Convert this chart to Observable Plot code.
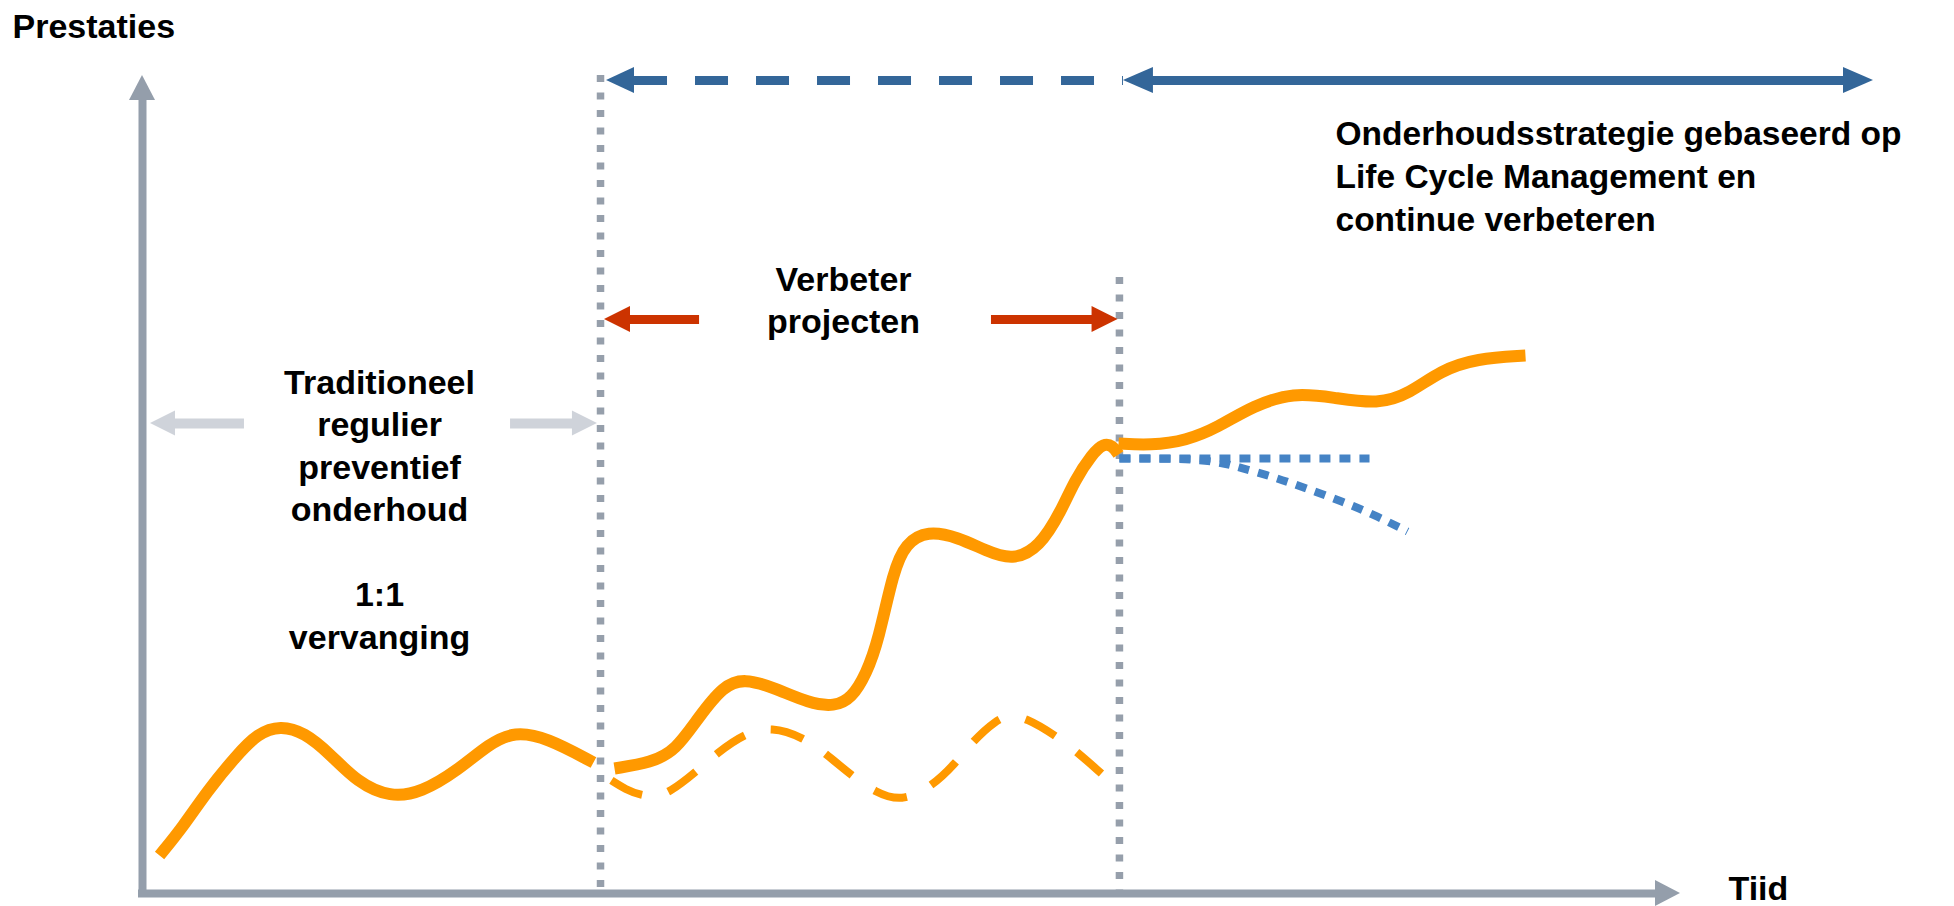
<!DOCTYPE html>
<html>
<head>
<meta charset="utf-8">
<script src="https://cdn.jsdelivr.net/npm/d3@7"></script>
<script src="https://cdn.jsdelivr.net/npm/@observablehq/plot@0.6"></script>
<style>
  html, body { margin: 0; padding: 0; background: #fff; }
  svg { display: block; }
</style>
</head>
<body>
<div id="chart"></div>
<script>
// ---------- DATA (time t, performance p; both in abstract units 0..100) ----------
// Traditional maintenance (solid orange)
const traditional = [
  [1.11,4.66],[2.60,8.09],[4.23,12.62],[6.11,16.91],[7.48,19.61],[8.97,20.59],
  [10.53,19.73],[12.16,17.16],[13.98,13.60],[16.12,11.76],[18.14,12.38],[20.48,15.07],
  [22.56,18.38],[24.19,19.85],[26.27,19.12],[29.32,16.05]
];
// Improvement projects (solid orange)
const improvement = [
  [30.69,15.32],[33.09,16.05],[34.66,17.52],[36.15,21.57],[37.78,25.49],[39.14,26.35],
  [41.03,25.25],[43.37,23.28],[44.99,22.92],[46.10,23.90],[47.07,26.96],[47.85,31.00],
  [48.83,39.58],[49.61,42.89],[51.04,44.49],[53.06,43.63],[54.81,42.03],[56.57,40.81],
  [58.32,42.40],[59.75,46.94],[60.60,50.61],[61.77,53.92],[62.48,55.15],[63.07,54.90],
  [63.46,53.80]
];
// Life Cycle Management and continuous improvement (solid orange)
const lifeCycle = [
  [63.46,55.15],[65.54,54.90],[67.88,55.51],[69.90,57.11],[72.24,59.80],[74.84,61.40],
  [77.44,60.78],[80.36,59.93],[82.38,61.27],[84.40,64.09],[86.74,65.56],[89.92,65.93]
];
// Without improvement projects (dashed orange)
const withoutProjects = [
  [30.49,13.85],[31.40,12.75],[32.44,12.01],[33.36,11.89],[34.27,12.38],[36.02,14.95],
  [37.32,17.16],[39.14,19.61],[40.90,20.47],[42.98,19.12],[44.41,17.16],[46.10,14.46],
  [47.66,12.38],[49.35,11.27],[51.24,12.99],[52.86,15.93],[53.90,18.50],[55.53,21.32],
  [56.37,21.81],[57.41,21.57],[59.36,19.36],[60.66,17.52],[62.35,14.71]
];
// Without LCM (blue dotted): stable and declining
const stable = [[63.52,53.31],[79.78,53.31]];
const declining = [
  [63.52,53.31],[67.49,53.31],[69.90,52.94],[71.33,52.21],[73.67,50.98],[75.68,49.63],
  [78.02,48.04],[80.04,46.45],[82.25,44.36]
];
// Phase boundaries (dotted vertical lines): time and top
const phaseTimes = [29.78, 63.52];
const phaseTops = [100.25, 75.49];

// Span arrows: [from, to, level]
const traditionalArrows = [[6.63, 0.52, 57.6], [23.93, 29.58, 57.6]];
const projectArrows = [[36.22, 30.04, 70.34], [55.2, 63.43, 70.34]];
const strategyDashed = [[63.78, 30.17, 99.63]];
const strategySolid = [[63.78, 112.55, 99.63]];

// Text
const yTitle = "Prestaties";
const xTitle = "Tiid";
const traditionalLabel = ["Traditioneel", "regulier", "preventief", "onderhoud", "", "1:1", "vervanging"];
const projectLabel = ["Verbeter", "projecten"];
const strategyLabel = ["Onderhoudsstrategie gebaseerd op", "Life Cycle Management en", "continue verbeteren"];

// ---------- LAYOUT ----------
const W = 1954, H = 906;
const M = {left: 142, right: 274, top: 77, bottom: 13};
const kx = (W - M.left - M.right) / 100;   // px per time unit
const ky = (H - M.top - M.bottom) / 100;   // px per performance unit

const ORANGE = "#FF9900", AXIS = "#949EAB", DOTGRAY = "#969FAB", LIGHT = "#CFD3DA",
      RED = "#CC3300", NAVY = "#336699", SKY = "#4583C5";
const FONT = "'Liberation Sans', Arial, Helvetica, sans-serif";

const pts = a => a.map(([t, p]) => ({t, p}));

let headId = 0;
function hHead(tip, level, dir, len, half) {
  const id = headId++;
  return [
    {id, x: tip - dir * len / kx, y1: level - half / ky, y2: level + half / ky},
    {id, x: tip, y1: level, y2: level}
  ];
}
function vHead(tip, pos, len, half) {
  const id = headId++;
  return [
    {id, y: tip - len / ky, x1: pos - half / kx, x2: pos + half / kx},
    {id, y: tip, x1: pos, x2: pos}
  ];
}

function singleArrows(list, color, shaftW, len, half, dash) {
  const heads = [], shafts = [];
  for (const [from, to, level] of list) {
    const dir = Math.sign(to - from);
    heads.push(...hHead(to, level, dir, len, half));
    const base = to - dir * len / kx;
    if (dash) shafts.push({x1: base, x2: from, y: level});
    else shafts.push({x1: from, x2: base + dir * 1 / kx, y: level});
  }
  return [
    Plot.ruleY(shafts, {x1: "x1", x2: "x2", y: "y", stroke: color, strokeWidth: shaftW,
      strokeDasharray: dash || null, strokeLinecap: "butt"}),
    Plot.areaY(heads, {x: "x", y1: "y1", y2: "y2", z: "id", fill: color, curve: "linear"})
  ];
}
function doubleArrows(list, color, shaftW, len, half) {
  const heads = [], shafts = [];
  for (const [from, to, level] of list) {
    const dir = Math.sign(to - from);
    heads.push(...hHead(to, level, dir, len, half));
    heads.push(...hHead(from, level, -dir, len, half));
    shafts.push({x1: from + dir * (len - 1) / kx, x2: to - dir * (len - 1) / kx, y: level});
  }
  return [
    Plot.ruleY(shafts, {x1: "x1", x2: "x2", y: "y", stroke: color, strokeWidth: shaftW, strokeLinecap: "butt"}),
    Plot.areaY(heads, {x: "x", y1: "y1", y2: "y2", z: "id", fill: color, curve: "linear"})
  ];
}

// Axes
const xAxisTip = 100, yAxisTip = 100.25;
const xAxisHead = hHead(xAxisTip, 0, 1, 25, 13);
const yAxisHead = vHead(yAxisTip, 0, 25, 13);

const textBase = {fontFamily: FONT, fontWeight: "bold", fontSize: 34, fill: "#000", lineAnchor: "bottom"};

const chart = Plot.plot({
  width: W, height: H,
  marginLeft: M.left, marginRight: M.right, marginTop: M.top, marginBottom: M.bottom,
  x: {domain: [0, 100], axis: null},
  y: {domain: [0, 100], axis: null},
  style: {background: "#fff", overflow: "visible"},
  marks: [
    // phase boundaries
    Plot.ruleX(phaseTimes.map((t, i) => ({t, top: phaseTops[i]})), {
      x: "t", y1: "top", y2: -0.5, stroke: DOTGRAY, strokeWidth: 7.5,
      strokeDasharray: "7,10.5", strokeLinecap: "butt"
    }),
    // axes
    Plot.ruleY([0], {x1: -0.26, x2: xAxisTip - 24 / kx, stroke: AXIS, strokeWidth: 8, strokeLinecap: "butt"}),
    Plot.areaY(xAxisHead, {x: "x", y1: "y1", y2: "y2", z: "id", fill: AXIS}),
    Plot.ruleX([0], {y1: -0.5, y2: yAxisTip - 24 / ky, stroke: AXIS, strokeWidth: 8, strokeLinecap: "butt"}),
    Plot.areaX(yAxisHead, {y: "y", x1: "x1", x2: "x2", z: "id", fill: AXIS}),
    // performance curves
    Plot.line(pts(withoutProjects), {x: "t", y: "p", curve: "basis", stroke: ORANGE,
      strokeWidth: 8, strokeDasharray: "34,27", strokeLinecap: "butt"}),
    Plot.line(pts(traditional), {x: "t", y: "p", curve: "basis", stroke: ORANGE, strokeWidth: 12, strokeLinecap: "butt"}),
    Plot.line(pts(improvement), {x: "t", y: "p", curve: "basis", stroke: ORANGE, strokeWidth: 12, strokeLinecap: "butt"}),
    Plot.line(pts(lifeCycle), {x: "t", y: "p", curve: "basis", stroke: ORANGE, strokeWidth: 12, strokeLinecap: "butt"}),
    Plot.line(pts(stable), {x: "t", y: "p", stroke: SKY, strokeWidth: 8, strokeDasharray: "11,9", strokeLinecap: "butt"}),
    Plot.line(pts(declining), {x: "t", y: "p", curve: "basis", stroke: SKY, strokeWidth: 8, strokeDasharray: "11,9", strokeLinecap: "butt"}),
    // span arrows
    ...singleArrows(traditionalArrows, LIGHT, 10, 25, 12.5),
    ...singleArrows(projectArrows, RED, 9, 26, 13),
    ...singleArrows(strategyDashed, NAVY, 9, 28, 13, "33,28"),
    ...doubleArrows(strategySolid, NAVY, 9, 30, 13),
    // labels
    Plot.text([yTitle], {...textBase, x: () => -8.45, y: () => 104.78, text: d => d, textAnchor: "start"}),
    Plot.text([xTitle], {...textBase, x: () => 103.12, y: () => -0.74, text: d => d, textAnchor: "start"}),
    Plot.text([traditionalLabel.join("\n")], {...textBase, x: () => 15.41, y: () => 30.02, text: d => d,
      textAnchor: "middle", lineHeight: 1.25}),
    Plot.text([projectLabel.join("\n")], {...textBase, x: () => 45.58, y: () => 68.63, text: d => d,
      textAnchor: "middle", lineHeight: 1.25}),
    Plot.text([strategyLabel.join("\n")], {...textBase, fontSize: 33.5, x: () => 77.57, y: () => 81.13, text: d => d,
      textAnchor: "start", lineHeight: 1.284})
  ]
});
document.getElementById("chart").appendChild(chart);
</script>
</body>
</html>
